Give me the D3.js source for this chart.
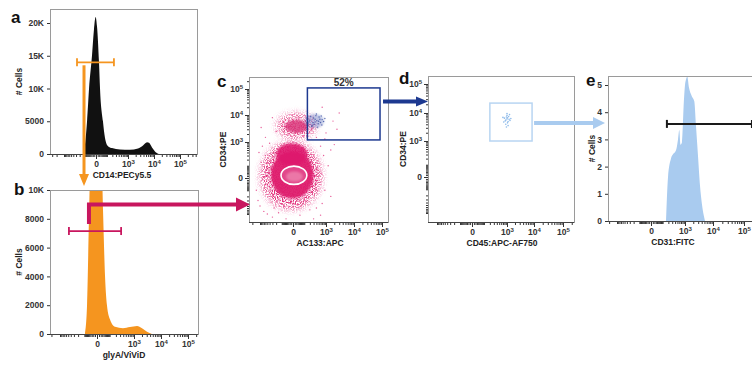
<!DOCTYPE html>
<html>
<head>
<meta charset="utf-8">
<script src="https://cdn.jsdelivr.net/npm/d3@7"></script>
<style>
  body { margin: 0; background: #fff; }
</style>
</head>
<body>
<svg id="fig" width="752" height="378"></svg>
<script>
// ---- data ----
const xMajor = [0, 1e3, 1e4, 1e5];
const yTicksA = [0, 5000, 10000, 15000, 20000];
const yLabelsA = ["0", "5000", "10K", "15K", "20K"];
const yTicksB = [0, 2000, 4000, 6000, 8000, 10000];
const yLabelsB = ["0", "2000", "4000", "6000", "8000", "10K"];
const yTicksE = [0, 1, 2, 3, 4, 5];

// histograms: [fluorescence value, count]
const histA = [[-133,0],[-101,1500],[-74,5000],[-52,10000],[-26,15000],[-12,19000],[-2,20900],[5.6,19500],
  [18.5,14000],[26,10000],[52,5000],[74,2500],[116,1200],[192,900],[457,700],[1200,650],[2459,850],
  [3822,1300],[5437,1800],[6480,1700],[8400,1000],[10900,400],[15500,0]];
const histB = [[-92,0],[-70,2000],[-52,8000],[-36,14000],[-16,18500],[0,19000],[16,17000],[36,8500],
  [52,4000],[70,2000],[105,1000],[183,500],[391,400],[716,480],[1302,560],[2004,400],[3072,150],[4692,0]];
const histE = [[153,0],[192,1.6],[265,2.3],[325,2.45],[436,2.6],[527,3.0],[595,3.35],[666,2.8],[764,2.9],
  [916,4.5],[1000,5.0],[1089,5.2],[1216,5.3],[1404,4.9],[1757,4.6],[2177,4.4],[2503,3.5],[2950,2.4],
  [3480,1.3],[4100,0.6],[5234,0]];

// gates
const gateA = { lo: -270, hi: 240, level: 14000 };
const gateB = { lo: -470, hi: 330, level: 7150 };
const gateE = { lo: 170, hi: 180000, level: 3.57 };
const gateC = { x: [150, 85000], y: [1200, 110000], pct: "52%" };
const gateD = { x: [200, 8500], y: [1000, 22000] };

// dot plot c: population extents (AC133, CD34)
const popsC = [
  { id: "halo",     x: [-1000, 700], y: [-700, 1000] },
  { id: "cd34halo", x: [-200, 400],  y: [1300, 12000] },
  { id: "body",     x: [-350, 300],  y: [-250, 450] },
  { id: "lobe",     x: [-200, 150],  y: [100, 900] },
  { id: "cd34",     x: [-60, 160],   y: [2200, 6600] },
  { id: "blue",     x: [110, 830],   y: [3340, 10900] },
  { id: "ring",     x: [-110, 140],  y: [-40, 95] },
  { id: "core",     x: [-50, 80],    y: [-20, 40] }
];
const sparseC = [[-1200,-300],[-900,150],[-700,-800],[-1100,400],[-500,-1000],[-300,-1300],[-150,-900],
  [50,-1100],[200,-700],[400,-600],[700,-400],[900,-100],[1200,100],[800,300],[1500,500],[600,700],
  [-400,900],[-800,700],[-600,1500],[-200,2500],[100,1800],[400,1500],[250,3000],[900,1300],[2000,800],
  [1500,-200],[-1400,-100],[-1000,-500],[300,-1500],[-50,-1500],[600,-1100],[-250,-600],[1000,2200],
  [-900,3500],[-300,8000],[700,20000],[1800,6000],[2500,3000],[3000,12000],[-600,300]];
const blueC = [[150,5000],[200,6500],[260,4200],[300,7800],[350,5600],[420,6200],[480,4800],[520,8500],
  [600,5300],[700,6800],[380,9500],[250,3800],[450,3600],[560,7000],[320,4600],[680,4300],[800,5800],
  [220,8800],[400,11000],[900,7500],[180,5600],[500,5900],[640,9200],[350,7000],[280,5200]];
// dot plot d: (CD45, CD34)
const dotsD = [[900,5600],[1000,6200],[1100,5000],[950,7200],[1050,4500],[800,6600],[1200,6000],[1000,8200],
  [900,4000],[1150,7500],[1300,5500],[850,5200],[1000,9500],[1100,3600],[750,4800],[1250,8800],[950,3200],
  [1050,6800],[1400,6400],[700,7000]];

// ---- layout ----
const FONT = '"Liberation Sans", Arial, sans-serif';
const L = {
  a: { frame: [50, 9, 197, 154],  x: [96, 128, 154, 180],  y: [154, 23], title: "CD14:PECy5.5", tx: 122, ty: 22, letter: [11, 23] },
  b: { frame: [50, 190, 198, 334], x: [97, 134, 161, 188], y: [334, 190], title: "glyA/ViViD", tx: 124, ty: 22, letter: [14, 195] },
  c: { frame: [249, 77, 388, 222], x: [293, 326, 354, 382], y: [178, 142, 115, 89], title: "AC133:APC", tx: 320, ty: 226, letter: [217, 87] },
  d: { frame: [428, 76, 574, 222], x: [472, 507, 534, 563], y: [177, 141, 113, 84], title: "CD45:APC-AF750", tx: 502, ty: 406, letter: [399, 84] },
  e: { frame: [608, 76, 762, 221], x: [651, 685, 713, 744], y: [221, 85], title: "CD31:FITC", tx: 673, ty: 595, letter: [586, 86] }
};
const C = { orange: "#f5951f", magenta: "#c8165e", navy: "#1d3990", sky: "#a9cbef", pink: "#de1a6d", black: "#111" };

const svg = d3.select("#fig");
const defs = svg.append("defs");

defs.append("filter").attr("id", "blur1").attr("x", "-50%").attr("y", "-50%").attr("width", "200%").attr("height", "200%")
  .append("feGaussianBlur").attr("stdDeviation", 1.3);
defs.append("filter").attr("id", "blur05").append("feGaussianBlur").attr("stdDeviation", 0.5);
const grain = defs.append("filter").attr("id", "grain").attr("x", "-50%").attr("y", "-50%").attr("width", "200%").attr("height", "200%");
grain.append("feGaussianBlur").attr("in", "SourceGraphic").attr("stdDeviation", 3).attr("result", "b");
grain.append("feTurbulence").attr("type", "fractalNoise").attr("baseFrequency", 0.9).attr("numOctaves", 2).attr("seed", 4).attr("result", "n");
grain.append("feColorMatrix").attr("in", "n").attr("type", "matrix")
  .attr("values", "0 0 0 0 0  0 0 0 0 0  0 0 0 0 0  4 0 0 0 -1.6").attr("result", "m");
grain.append("feComposite").attr("in", "b").attr("in2", "m").attr("operator", "in");

Object.keys(L).forEach(p => {
  const [x0, y0, x1, y1] = L[p].frame;
  defs.append("clipPath").attr("id", "clip-" + p).append("rect")
    .attr("x", x0).attr("y", y0).attr("width", x1 - x0).attr("height", y1 - y0);
});

const logScale = px => d3.scaleSymlog().constant(60).domain(xMajor).range(px);
const minorVals = [];
for (const s of [-1, 1]) for (let d = 1; d <= 5; d++) for (let k = 1; k <= 9; k++) {
  const v = s * k * 10 ** d;
  if (!xMajor.includes(v)) minorVals.push(v);
}

function sup(sel) {
  sel.each(function (d) {
    const t = d3.select(this);
    if (d === 0) { t.text("0"); return; }
    t.text("");
    t.append("tspan").text("10");
    t.append("tspan").attr("dy", "-0.5em").attr("font-size", "6px").text(Math.round(Math.log10(d)));
  });
}
function styleAxis(g) {
  g.attr("font-family", FONT).attr("font-size", 8.5).attr("font-weight", "bold").attr("color", "#333");
  g.select(".domain").remove();
}

function drawFrame(p) {
  const [x0, y0, x1, y1] = L[p].frame;
  svg.append("rect").attr("x", x0 + 0.5).attr("y", y0 + 0.5).attr("width", x1 - x0).attr("height", y1 - y0)
    .attr("fill", "none").attr("stroke", "#9a9a9a").attr("stroke-width", 1);
  svg.append("line").attr("x1", x0).attr("x2", x1).attr("y1", y1 + 0.5).attr("y2", y1 + 0.5)
    .attr("stroke", "#444").attr("stroke-width", 1);
}

function logAxis(p, sc, orient) {
  const [x0, y0, x1, y1] = L[p].frame;
  const lo = orient === "bottom" ? x0 : y0, hi = orient === "bottom" ? x1 : y1;
  const mins = minorVals.filter(v => { const q = sc(v); return q > lo + 1 && q < hi - 1; });
  const mk = orient === "bottom" ? d3.axisBottom : d3.axisLeft;
  const tr = orient === "bottom" ? `translate(0,${y1 + 1})` : `translate(${x0},0)`;
  svg.append("g").attr("transform", tr)
    .call(mk(sc).tickValues(mins).tickSize(2).tickFormat("")).call(styleAxis);
  svg.append("g").attr("transform", tr)
    .call(mk(sc).tickValues(xMajor).tickSize(4).tickPadding(2)).call(styleAxis)
    .selectAll("text").call(sup);
}

function linAxis(p, sc, vals, labels) {
  const [x0] = L[p].frame;
  svg.append("g").attr("transform", `translate(${x0},0)`)
    .call(d3.axisLeft(sc).tickValues(vals).tickSize(3).tickPadding(3).tickFormat((d, i) => labels[i]))
    .call(styleAxis);
}

function titles(p, yTitle) {
  const l = L[p], [x0, y0, x1, y1] = l.frame;
  svg.append("text").attr("x", l.tx).attr("y", y1 + 24).attr("text-anchor", "middle")
    .attr("font-family", FONT).attr("font-weight", "bold").attr("font-size", 8.5).attr("fill", "#222").text(l.title);
  svg.append("text").attr("transform", `translate(${l.ty},${(y0 + y1) / 2}) rotate(-90)`).attr("text-anchor", "middle")
    .attr("font-family", FONT).attr("font-weight", "bold").attr("font-size", 8.5).attr("fill", "#222").text(yTitle);
  svg.append("text").attr("x", l.letter[0]).attr("y", l.letter[1])
    .attr("font-family", FONT).attr("font-weight", "bold").attr("font-size", 17).attr("fill", "#111").text(p);
}

function histogram(p, data, y, color) {
  const x = logScale(L[p].x);
  const area = d3.area().x(d => x(d[0])).y0(y(0)).y1(d => y(d[1])).curve(d3.curveMonotoneX);
  svg.append("path").datum(data).attr("clip-path", `url(#clip-${p})`)
    .attr("d", area).attr("fill", color);
  return x;
}

function rangeGate(x, y, gate, color, w) {
  const g = svg.append("g").attr("stroke", color).attr("stroke-width", w).attr("fill", "none");
  const yy = y(gate.level);
  g.append("line").attr("x1", x(gate.lo)).attr("x2", x(gate.hi)).attr("y1", yy).attr("y2", yy);
  [gate.lo, gate.hi].forEach(v => g.append("line").attr("x1", x(v)).attr("x2", x(v)).attr("y1", yy - 4).attr("y2", yy + 4));
}

function arrow(pts, color, w, headLen, headHalf) {
  const [ex, ey] = pts[pts.length - 1], [px, py] = pts[pts.length - 2];
  const a = Math.atan2(ey - py, ex - px);
  const bx = ex - headLen * Math.cos(a), by = ey - headLen * Math.sin(a);
  const line = pts.slice(0, -1).concat([[bx + Math.cos(a), by + Math.sin(a)]]);
  svg.append("path").attr("d", d3.line()(line)).attr("fill", "none").attr("stroke", color)
    .attr("stroke-width", w).attr("stroke-linejoin", "miter");
  const nx = -Math.sin(a), ny = Math.cos(a);
  svg.append("path").attr("d", d3.line()([[ex, ey], [bx + nx * headHalf, by + ny * headHalf], [bx - nx * headHalf, by - ny * headHalf]]) + "Z")
    .attr("fill", color);
}

// ---- panel a ----
const yA = d3.scaleLinear().domain([0, 20000]).range(L.a.y);
const xA = histogram("a", histA, yA, C.black);
drawFrame("a"); logAxis("a", xA, "bottom"); linAxis("a", yA, yTicksA, yLabelsA); titles("a", "# Cells");
rangeGate(xA, yA, gateA, C.orange, 1.8);

// ---- panel b ----
const yB = d3.scaleLinear().domain([0, 10000]).range(L.b.y);
const xB = histogram("b", histB, yB, C.orange);
drawFrame("b"); logAxis("b", xB, "bottom"); linAxis("b", yB, yTicksB, yLabelsB); titles("b", "# Cells");
rangeGate(xB, yB, gateB, C.magenta, 1.8);

// ---- panel e ----
const yE = d3.scaleLinear().domain([0, 5]).range(L.e.y);
const xE = histogram("e", histE, yE, C.sky);
drawFrame("e"); logAxis("e", xE, "bottom"); linAxis("e", yE, yTicksE, yTicksE.map(String)); titles("e", "# Cells");
rangeGate(xE, yE, gateE, "#1a1a1a", 2);

// ---- panel c ----
const xC = logScale(L.c.x), yC = logScale(L.c.y);
const popStyle = {
  halo:     { fill: C.pink, op: 0.9, filter: "url(#grain)" },
  cd34halo: { fill: C.pink, op: 0.8, filter: "url(#grain)" },
  body:     { fill: C.pink, op: 0.95, filter: "url(#blur1)" },
  lobe:     { fill: C.pink, op: 0.9, filter: "url(#blur1)" },
  cd34:     { fill: "#d9357a", op: 0.85, filter: "url(#blur1)" },
  blue:     { fill: "#6b7fc4", op: 0.45, filter: "url(#blur1)" },
  ring:     { fill: "#e2468a", op: 1, stroke: "#fff", sw: 1.6, filter: "url(#blur05)" },
  core:     { fill: "#f08cb4", op: 0.7, filter: "url(#blur1)" }
};
const gc = svg.append("g").attr("clip-path", "url(#clip-c)");
popsC.forEach(pop => {
  const s = popStyle[pop.id];
  const xa = xC(pop.x[0]), xb = xC(pop.x[1]), ya = yC(pop.y[0]), yb = yC(pop.y[1]);
  gc.append("ellipse").attr("cx", (xa + xb) / 2).attr("cy", (ya + yb) / 2)
    .attr("rx", Math.abs(xb - xa) / 2).attr("ry", Math.abs(yb - ya) / 2)
    .attr("fill", s.fill).attr("fill-opacity", s.op).attr("filter", s.filter)
    .attr("stroke", s.stroke || "none").attr("stroke-width", s.sw || 0);
  if (pop.id === "blue") {
    gc.selectAll(null).data(blueC).join("circle")
      .attr("cx", d => xC(d[0])).attr("cy", d => yC(d[1])).attr("r", 0.7).attr("fill", "#3a4fa3").attr("opacity", 0.8);
  }
});
gc.selectAll(null).data(sparseC).join("circle")
  .attr("cx", d => xC(d[0])).attr("cy", d => yC(d[1])).attr("r", 0.7).attr("fill", C.pink).attr("opacity", 0.7);
drawFrame("c"); logAxis("c", xC, "bottom"); logAxis("c", yC, "left"); titles("c", "CD34:PE");
svg.append("rect").attr("x", xC(gateC.x[0])).attr("y", yC(gateC.y[1]))
  .attr("width", xC(gateC.x[1]) - xC(gateC.x[0])).attr("height", yC(gateC.y[0]) - yC(gateC.y[1]))
  .attr("fill", "none").attr("stroke", C.navy).attr("stroke-width", 1.5);
svg.append("text").attr("x", (xC(gateC.x[0]) + xC(gateC.x[1])) / 2).attr("y", yC(gateC.y[1]) - 1.5)
  .attr("text-anchor", "middle").attr("font-family", FONT).attr("font-weight", "bold").attr("font-size", 10)
  .attr("fill", "#333").text(gateC.pct);

// ---- panel d ----
const xD = logScale(L.d.x), yD = logScale(L.d.y);
svg.append("g").attr("clip-path", "url(#clip-d)").selectAll("circle").data(dotsD).join("circle")
  .attr("cx", d => xD(d[0])).attr("cy", d => yD(d[1])).attr("r", 0.8).attr("fill", "#8dbaea");
drawFrame("d"); logAxis("d", xD, "bottom"); logAxis("d", yD, "left"); titles("d", "CD34:PE");
svg.append("rect").attr("x", xD(gateD.x[0])).attr("y", yD(gateD.y[1]))
  .attr("width", xD(gateD.x[1]) - xD(gateD.x[0])).attr("height", yD(gateD.y[0]) - yD(gateD.y[1]))
  .attr("fill", "none").attr("stroke", "#b8d5f2").attr("stroke-width", 1.5);

// ---- connecting arrows ----
const ax = xA(-116);
arrow([[ax, yA(gateA.level) + 3], [ax, L.b.frame[1] - 4]], C.orange, 3, 12, 5);
const bx = xB(-52);
arrow([[bx, yB(gateB.level) - 7], [bx, yB(9000)], [L.c.frame[0] + 1, yB(9000)]], C.magenta, 4, 14, 7);
arrow([[xC(gateC.x[1]) + 3, yC(33000)], [L.d.frame[0], yC(33000)]], C.navy, 4, 12, 5);
arrow([[xD(gateD.x[1]) + 2, yD(4446)], [L.e.frame[0] - 3, yD(4446)]], C.sky, 4, 12, 6);
</script>
</body>
</html>
